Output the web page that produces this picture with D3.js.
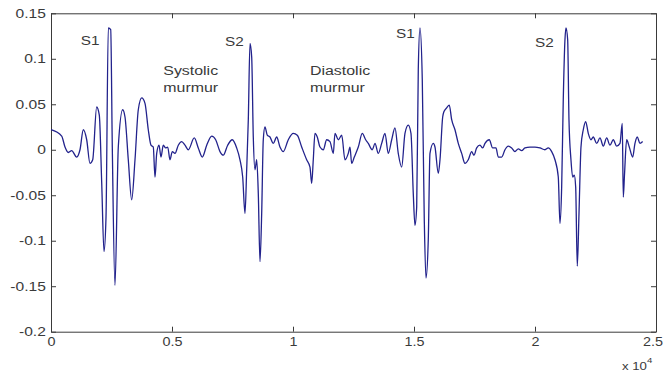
<!DOCTYPE html>
<html>
<head>
<meta charset="utf-8">
<script src="https://cdn.jsdelivr.net/npm/d3@7"></script>
<style>
  body { margin: 0; background: #fff; }
  svg { display: block; font-family: "Liberation Sans", Arial, sans-serif; }
</style>
</head>
<body>
<svg id="chart" width="664" height="375"></svg>
<script>
// sample index of each traced point
const sampleIdx = [
  0, 442, 578, 715, 855, 1062, 1198, 1335, 1475, 1611, 1723, 1888, 1996, 2095,
  2190, 2273, 2368, 2467, 2533, 2644, 2781, 2963, 3058, 3194, 3334, 3471, 3607,
  3748, 3884, 4020, 4132, 4227, 4297, 4368, 4463, 4545, 4640, 4740, 4822, 4917,
  5012, 5124, 5260, 5401, 5537, 5673, 5921, 6086, 6252, 6434, 6640, 6805, 6983,
  7119, 7301, 7491, 7673, 7809, 7921, 8016, 8086, 8153, 8223, 8293, 8359, 8429,
  8500, 8566, 8636, 8706, 8772, 8842, 8937, 9049, 9185, 9326, 9462, 9599, 9805,
  10012, 10177, 10359, 10565, 10702, 10772, 10838, 10908, 11003, 11115, 11251,
  11392, 11528, 11665, 11735, 11871, 12012, 12148, 12284, 12355, 12425, 12533,
  12698, 12863, 13003, 13111, 13276, 13388, 13524, 13665, 13801, 13937, 14078,
  14214, 14350, 14491, 14627, 14763, 14875, 14970, 15040, 15111, 15177, 15247,
  15342, 15425, 15495, 15590, 15660, 15797, 15867, 16004, 16074, 16185, 16239,
  16350, 16458, 16557, 16693, 16830, 16970, 17106, 17242, 17383, 17478, 17590,
  17726, 17838, 17933, 18111, 18251, 18387, 18483, 18623, 18759, 18896, 19036,
  19172, 19309, 19449, 19586, 19792, 19999, 20205, 20412, 20548, 20689, 20825,
  20962, 21032, 21102, 21168, 21238, 21280, 21350, 21404, 21486, 21557, 21623,
  21681, 21747, 21818, 21900, 21995, 22094, 22202, 22313, 22408, 22549, 22685,
  22822, 22962, 23098, 23235, 23375, 23511, 23606, 23648, 23697, 23788, 23896,
  24036, 24131, 24226, 24338, 24449
];

// amplitude at each traced point
const amplitude = [
  0.022, 0.015, 0.003, -0.003, -0.001, -0.008, 0.000, 0.022, 0.011, -0.015, -0.011, 0.047, 0.038, -0.036,
  -0.112, -0.074, 0.134, 0.132, 0.003, -0.149, 0.003, 0.044, 0.036, -0.011, -0.055, -0.011, 0.044,
  0.057, 0.051, 0.022, 0.005, 0.003, -0.030, -0.004, 0.005, -0.008, 0.005, 0.002, 0.003, -0.011,
  -0.002, -0.004, 0.005, 0.009, 0.005, 0.000, 0.013, 0.002, -0.008, 0.005, 0.015, 0.011, -0.002,
  -0.006, 0.005, 0.011, 0.002, -0.011, -0.030, -0.070, -0.022, 0.033, 0.117, 0.102, 0.014, -0.022,
  -0.011, -0.048, -0.123, -0.070, 0.011, 0.025, 0.016, 0.014, 0.007, 0.014, 0.003, -0.002, 0.011,
  0.018, 0.016, 0.003, -0.011, -0.019, -0.037, -0.011, 0.018, 0.014, 0.003, 0.000,
  0.011, 0.009, -0.004, 0.018, 0.011, 0.016, -0.011, -0.004, 0.003, -0.015, -0.008,
  0.003, 0.018, 0.011, 0.007, 0.000, 0.007, -0.004, 0.007, 0.018, -0.004, 0.011,
  0.024, -0.004, -0.019, 0.018, 0.027, 0.018, -0.048, -0.083, -0.063, 0.088, 0.134,
  0.077, -0.077, -0.141, -0.099, -0.004, 0.007, 0.003, -0.026, -0.011, 0.036, 0.042,
  0.046, 0.049, 0.033, 0.022, 0.007, -0.004, -0.015, -0.011, -0.002, -0.006, 0.002,
  0.005, 0.002, 0.007, 0.011, 0.002, 0.002, -0.008, -0.008, 0.000, 0.004, 0.002,
  -0.002, 0.001, -0.001, 0.002, 0.003, 0.003, 0.002, 0.000, 0.002, -0.002, -0.011,
  -0.030, -0.081, -0.041, 0.055, 0.121, 0.134, 0.121, 0.033, -0.011, -0.030, -0.028,
  -0.041, -0.128, -0.070, 0.003, 0.022, 0.031, 0.018, 0.011, 0.014, 0.007, 0.013,
  0.004, 0.013, 0.005, 0.011, 0.004, 0.007, 0.029, -0.052, -0.028, 0.011, 0.003,
  -0.008, 0.007, 0.014, 0.007, 0.009
];

const xTicks = [0, 5000, 10000, 15000, 20000, 25000];
const xTickLabels = ["0", "0.5", "1", "1.5", "2", "2.5"];
const yTicks = [-0.2, -0.15, -0.1, -0.05, 0, 0.05, 0.1, 0.15];
const yTickLabels = ["-0.2", "-0.15", "-0.1", "-0.05", "0", "0.05", "0.1", "0.15"];

// annotation text anchored at (sample, amplitude)
const noteText = ["S1", "Systolic", "murmur", "S2", "Diastolic", "murmur", "S1", "S2"];
const noteX = [1227, 4640, 4640, 7190, 10702, 10702, 14255, 19999];
const noteY = [0.115, 0.0817, 0.064, 0.114, 0.0817, 0.064, 0.123, 0.1125];

const margin = { top: 13.3, right: 8, bottom: 43.3, left: 51 };
const width = 664, height = 375;
const ink = "#3a3a3a";
const stretch = 1.3; // glyphs in the source are wider than tall

const svg = d3.select("#chart");

const x = d3.scaleLinear()
  .domain([0, 25000])
  .range([margin.left, width - margin.right]);
const y = d3.scaleLinear()
  .domain([-0.2, 0.15])
  .range([height - margin.bottom, margin.top]);

function styleAxis(g) {
  g.select(".domain").attr("stroke", ink).attr("stroke-width", 1);
  g.selectAll(".tick line").attr("stroke", ink);
  g.selectAll(".tick text")
    .attr("fill", ink)
    .attr("font-size", 12)
    .attr("font-family", "Liberation Sans, Arial, sans-serif");
}

// bottom axis with labels, ticks pointing inward
svg.append("g")
  .attr("transform", `translate(0, ${y(-0.2)})`)
  .call(d3.axisBottom(x).tickValues(xTicks)
    .tickFormat((d, i) => xTickLabels[i])
    .tickSizeInner(-5).tickSizeOuter(0).tickPadding(6))
  .call(styleAxis)
  .call((g) => g.selectAll(".tick text")
    .attr("transform", `scale(1.2,1)`)
    .attr("dx", (d) => (d === 25000 ? -3 : 0)));

svg.append("g")
  .attr("transform", `translate(${x(0)}, 0)`)
  .call(d3.axisLeft(y).tickValues(yTicks)
    .tickFormat((d, i) => yTickLabels[i])
    .tickSizeInner(-5).tickSizeOuter(0).tickPadding(4))
  .call(styleAxis)
  .call((g) => g.selectAll(".tick text").attr("transform", `scale(${stretch},1)`));

// box: top and right axes, ticks only
svg.append("g")
  .attr("transform", `translate(0, ${y(0.15)})`)
  .call(d3.axisTop(x).tickValues(xTicks).tickFormat("")
    .tickSizeInner(-5).tickSizeOuter(0))
  .call(styleAxis);

svg.append("g")
  .attr("transform", `translate(${x(25000)}, 0)`)
  .call(d3.axisRight(y).tickValues(yTicks).tickFormat("")
    .tickSizeInner(-5).tickSizeOuter(0))
  .call(styleAxis);

// exponent label
const expo = svg.append("text")
  .attr("transform", `translate(${x(25000) - 34}, 370) scale(1.2,1)`)
  .attr("fill", ink)
  .attr("font-size", 11);
expo.append("tspan").text("x 10");
expo.append("tspan").attr("dy", -7).attr("font-size", 8).text("4");

const points = sampleIdx.map((s, i) => [s, amplitude[i]]);

svg.append("path")
  .datum(points)
  .attr("fill", "none")
  .attr("stroke", "#22228c")
  .attr("stroke-width", 1.3)
  .attr("stroke-linejoin", "round")
  .attr("d", d3.line()
    .curve(d3.curveMonotoneX)
    .x((d) => x(d[0]))
    .y((d) => y(d[1])));

svg.append("g")
  .selectAll("text")
  .data(noteText)
  .join("text")
  .attr("transform", (d, i) =>
    `translate(${x(noteX[i])}, ${y(noteY[i])}) scale(1.18,1)`)
  .attr("fill", ink)
  .attr("font-size", (d) => (d.length === 2 ? 13 : 13.5))
  .text((d) => d);
</script>
</body>
</html>
